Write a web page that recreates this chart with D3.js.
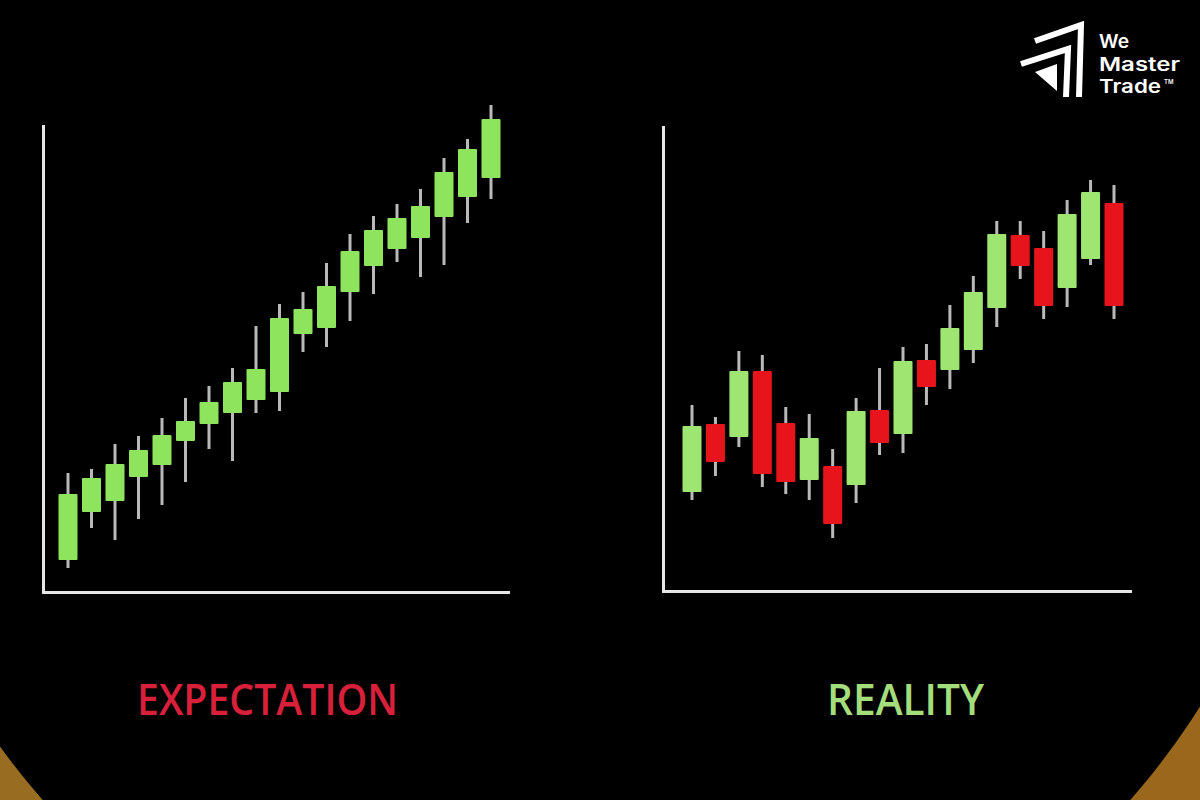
<!DOCTYPE html>
<html>
<head>
<meta charset="utf-8">
<script src="https://cdn.jsdelivr.net/npm/d3@7"></script>
<style>
html,body{margin:0;padding:0;background:#000;}
svg{display:block;}
</style>
</head>
<body>
<svg id="chart" width="1200" height="800"></svg>
<script>
// ---- Data (price units) ----
const candleIndex = d3.range(1, 20);

// EXPECTATION: all bullish candles
const expOpen  = [6.4,16,18.2,23,25.4,30.2,33.6,35.8,38.4,40,51.6,52.8,60,65.2,68.6,70.8,75,79,82.8];
const expClose = [19.6,22.8,25.6,28.4,31.4,34.2,38,42,44.6,54.8,56.6,61.2,68.2,72.4,74.8,77.2,84,88.6,94.6];
const expHigh  = [23.8,24.6,29.6,31.2,34.8,38.8,41.2,44.8,53.2,57.6,60,65.8,71.6,75.2,77.6,80.6,86.8,90.6,97.4];
const expLow   = [4.8,12.8,10.4,14.6,17.4,22,28.6,26.2,35.8,36.2,48,49,54.2,59.6,66,63,65.4,73.8,78.6];

// REALITY: mixed candles
const realOpen  = [20,33.6,31,44.2,33.8,22.4,25.2,21.4,36.4,31.6,46.4,44.4,48.4,56.8,71.4,68.8,60.8,66.6,77.8];
const realClose = [33.2,26,44.2,23.6,22,30.8,13.6,36.2,29.8,46.2,41,52.8,60,71.6,65.2,57.2,75.6,80,57.2];
const realHigh  = [37.4,35,48.2,47.4,37,35.6,28.6,38.8,44.8,49,49.6,57.4,63.2,74.2,74.2,72.2,78.4,82.4,81.4];
const realLow   = [18.4,23.2,29,21,19.6,18.4,10.8,17.8,27.4,27.8,37.4,40.6,45.8,53,62.6,54.6,57,65.4,54.6];

const labels = ["EXPECTATION", "REALITY"];
const brandLines = ["We", "Master", "Trade"];
const brandWidths = [30, 81, 62];

// ---- Drawing ----
const svg = d3.select("#chart");

// background: gold behind a big black disc
const defs = svg.append("defs");
const g1 = defs.append("linearGradient").attr("id","gold").attr("x1","0").attr("y1","0").attr("x2","1").attr("y2","1");
g1.append("stop").attr("offset","0").attr("stop-color","#977226");
g1.append("stop").attr("offset","1").attr("stop-color","#9a671c");
svg.append("rect").attr("width",1200).attr("height",800).attr("fill","url(#gold)");
svg.append("circle").attr("cx",586.5).attr("cy",322).attr("r",724).attr("fill","#000");

const y = d3.scaleLinear().domain([0, 100]).range([592, 92]);

function makeChart(cfg) {
  const x = d3.scalePoint().domain(candleIndex).range(cfg.xRange);
  const data = candleIndex.map((k, i) => ({
    k, open: cfg.open[i], close: cfg.close[i], high: cfg.high[i], low: cfg.low[i]
  }));
  const g = svg.append("g");
  // axes (L-shaped frame)
  const xAxis = d3.axisBottom(d3.scaleLinear().range([cfg.axisX0, cfg.axisX1])).ticks(0).tickSize(0).tickSizeOuter(0);
  const yAxis = d3.axisLeft(d3.scaleLinear().range([cfg.axisBottom, cfg.axisTop])).ticks(0).tickSize(0).tickSizeOuter(0);
  const ax = g.append("g").attr("transform", `translate(0,${cfg.axisBottom})`).call(xAxis);
  const ay = g.append("g").attr("transform", `translate(${cfg.axisX0},0)`).call(yAxis);
  [ax, ay].forEach(a => a.select(".domain").attr("stroke", "#e6e6e6").attr("stroke-width", 3).attr("stroke-linecap","square"));

  const c = g.selectAll("g.candle").data(data).join("g").attr("class","candle");
  c.append("line")
    .attr("x1", d => x(d.k)).attr("x2", d => x(d.k))
    .attr("y1", d => y(d.high)).attr("y2", d => y(d.low))
    .attr("stroke", "#b9b9b9").attr("stroke-width", 3);
  c.append("rect")
    .attr("x", d => x(d.k) - cfg.bodyW / 2)
    .attr("width", cfg.bodyW)
    .attr("y", d => y(Math.max(d.open, d.close)))
    .attr("height", d => Math.abs(y(d.open) - y(d.close)))
    .attr("rx", 1)
    .attr("fill", d => d.close >= d.open ? cfg.up : cfg.down);

  svg.append("text")
    .attr("x", cfg.labelX).attr("y", 715)
    .attr("font-family", "'Open Sans', 'Noto Sans', sans-serif")
    .attr("font-size", 43).attr("font-weight", 600)
    .attr("textLength", cfg.labelW).attr("lengthAdjust", "spacingAndGlyphs")
    .attr("fill", cfg.labelColor)
    .text(cfg.label);
}

makeChart({
  xRange: [68, 491], bodyW: 19, open: expOpen, close: expClose, high: expHigh, low: expLow,
  axisX0: 43, axisX1: 508, axisTop: 126, axisBottom: 592,
  up: "#8ee45c", down: "#e8141c",
  label: labels[0], labelX: 137, labelW: 261, labelColor: "#d9203a"
});
makeChart({
  xRange: [692, 1114], bodyW: 19, open: realOpen, close: realClose, high: realHigh, low: realLow,
  axisX0: 663, axisX1: 1130, axisTop: 127, axisBottom: 591,
  up: "#9fe571", down: "#e8141c",
  label: labels[1], labelX: 827, labelW: 157, labelColor: "#a3dd7c"
});

// ---- Logo ----
const logo = svg.append("g");
logo.append("polyline").attr("points","1035,41 1081,25 1079,97")
  .attr("fill","none").attr("stroke","#fff").attr("stroke-width",6).attr("stroke-linejoin","miter");
logo.append("polyline").attr("points","1021,64 1068,49 1066,97")
  .attr("fill","none").attr("stroke","#fff").attr("stroke-width",6).attr("stroke-linejoin","miter");
logo.append("polygon").attr("points","1035,72 1057,64 1057,91").attr("fill","#fff");
brandLines.forEach((t, i) => {
  logo.append("text").attr("x", 1099).attr("y", 48 + i * 22.5)
    .attr("font-family","Inter, Roboto, sans-serif").attr("font-weight",600)
    .attr("font-size",18.5)
    .attr("textLength", brandWidths[i]).attr("lengthAdjust","spacingAndGlyphs")
    .attr("fill","#fff").text(t);
});
logo.append("text").attr("x",1164).attr("y",84).attr("font-family","Inter, sans-serif")
  .attr("font-size",6).attr("font-weight",600).attr("fill","#fff").text("TM");
</script>
</body>
</html>
